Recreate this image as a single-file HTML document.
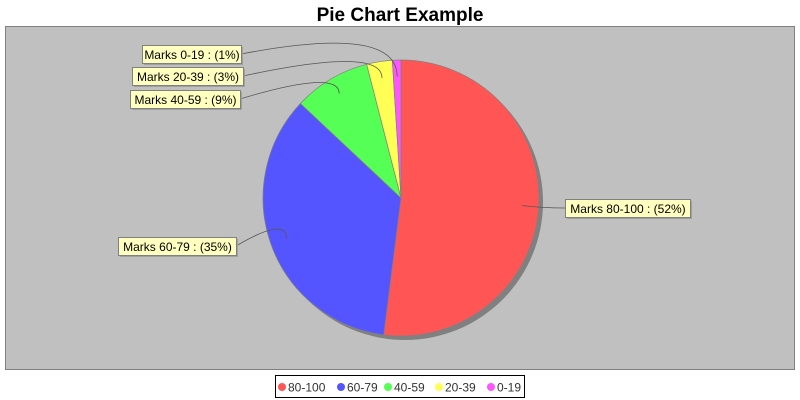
<!DOCTYPE html>
<html><head><meta charset="utf-8"><style>
body{margin:0;background:#fff;font-family:"Liberation Sans",sans-serif}
svg{display:block}
</style></head><body>
<svg id="c" width="800" height="400" xmlns="http://www.w3.org/2000/svg">
<text x="400" y="21" text-anchor="middle" font-size="19" font-weight="bold" fill="#000">Pie Chart Example</text>
<rect x="5.5" y="26.5" width="789" height="343" fill="#c0c0c0" stroke="#808080"/>
<g id="pie"></g>
<g id="labels"></g>
<g id="legend"></g>
</svg>
<script>
const categories=["80-100","60-79","40-59","20-39","0-19"];
const values=[52,35,9,3,1];
const colors=["#ff5555","#5555ff","#55ff55","#ffff55","#ff55ff"];
const NS="http://www.w3.org/2000/svg";
const cx=401,cy=198,r=138;
const pie=document.getElementById('pie'),labs=document.getElementById('labels'),leg=document.getElementById('legend');
function mk(tag,attrs,parent){const e=document.createElementNS(NS,tag);for(const k in attrs)e.setAttribute(k,attrs[k]);parent.appendChild(e);return e;}
const total=values.reduce((a,b)=>a+b,0);
const sh=mk('circle',{cx:cx+4,cy:cy+4,r:r,fill:'#808080'},pie);


function pt(a,rr){return [cx+rr*Math.sin(a),cy-rr*Math.cos(a)];}
let acc=0;const mids=[];
values.forEach((v,i)=>{
  const a0=acc/total*2*Math.PI;acc+=v;const a1=acc/total*2*Math.PI;
  const p0=pt(a0,r),p1=pt(a1,r);
  const large=(a1-a0)>Math.PI?1:0;
  const p=mk('path',{d:`M${cx},${cy}L${p0[0]},${p0[1]}A${r},${r} 0 ${large} 1 ${p1[0]},${p1[1]}Z`,fill:colors[i],stroke:'#808080','stroke-width':0.7},pie);
  
  
  mids.push((a0+a1)/2);
});
const boxes=[[565,199,125],[118,237,118],[130,90,110],[132,67,111],[142,45,99]];
values.forEach((v,i)=>{
  const [bx,by,bw]=boxes[i];const bh=18;
  const anc=pt(mids[i],r*0.88);
  const right=bx>cx;
  const ex=right?bx:bx+bw, ey=by+bh/2;
  const ln=mk('path',{d:`M${anc[0]},${anc[1]}Q${right?(anc[0]+ex)/2:anc[0]},${ey-(right?0:30)} ${ex},${ey}`,fill:'none',stroke:'#555','stroke-width':0.8},labs);
  
  
  const s=mk('rect',{x:bx+2,y:by+2,width:bw,height:bh,fill:'#a0a0a0'},labs);
  
  
  const b=mk('rect',{x:bx+.5,y:by+.5,width:bw,height:bh,fill:'#ffffc0',stroke:'#808080'},labs);
  
  
  const t=mk('text',{x:bx+bw/2+.5,y:by+14,'text-anchor':'middle','font-size':12,fill:'#000'},labs);
  t.textContent=`Marks ${categories[i]} : (${Math.round(v/total*100)}%)`;
  
  
});
const lb=mk('rect',{x:275.5,y:375.5,width:249,height:22,fill:'#fff',stroke:'#000'},leg);


const lx=[282,341,388,439,491];
categories.forEach((c,i)=>{
  const d=mk('circle',{cx:lx[i],cy:387,r:4,fill:colors[i]},leg);
  
  
  const t=mk('text',{x:lx[i]+6,y:391.5,'font-size':12,fill:'#333'},leg);
  t.textContent=c;
  
  
});
</script>
</body></html>
